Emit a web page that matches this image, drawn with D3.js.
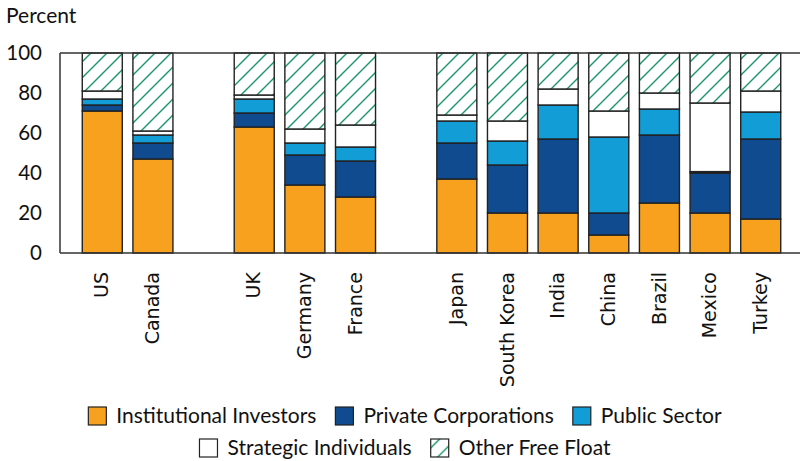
<!DOCTYPE html>
<html>
<head>
<meta charset="utf-8">
<script src="https://cdn.jsdelivr.net/npm/d3@7"></script>
<style>
  html, body { margin: 0; padding: 0; background: #fff; }
  svg { display: block; }
</style>
</head>
<body>
<svg id="chart" width="800" height="461"></svg>
<script>
// ---- Data ----
const categories = ["US", "Canada", "", "UK", "Germany", "France", " ", "Japan", "South Korea", "India", "China", "Brazil", "Mexico", "Turkey"];
const seriesNames = ["Institutional Investors", "Private Corporations", "Public Sector", "Strategic Individuals", "Other Free Float"];
const institutional = [71, 47, null, 63, 34, 28, null, 37, 20, 20, 9, 25, 20, 17];
const privateCorp   = [3, 8, null, 7, 15, 18, null, 18, 24, 37, 11, 34, 20, 40];
const publicSector  = [3, 4, null, 7, 6, 7, null, 11, 12, 17, 38, 13, 0.7, 13.5];
const strategic     = [4, 2, null, 2, 7, 11, null, 3, 10, 8, 13, 8, 34.3, 10.5];
const otherFloat    = [19, 39, null, 21, 38, 36, null, 31, 34, 18, 29, 20, 25, 19];
const yTicks = [0, 20, 40, 60, 80, 100];
const yLabel = "Percent";

const colors = ["#F8A11E", "#0F4B8E", "#129DD6", "#FFFFFF", "url(#hatch)"];

// ---- Layout ----
const svg = d3.select("#chart");
const mLeft = 60, mRight = 800, mTop = 53, mBottom = 253;

const defs = svg.append("defs");
const pat = defs.append("pattern")
  .attr("id", "hatch")
  .attr("patternUnits", "userSpaceOnUse")
  .attr("width", 16).attr("height", 16);
pat.append("rect").attr("width", 16).attr("height", 16).attr("fill", "#fff");
pat.append("path")
  .attr("d", "M-4,4 L4,-4 M0,16 L16,0 M12,20 L20,12")
  .attr("stroke", "#16966A").attr("stroke-width", 1.4);

const x = d3.scaleBand().domain(categories).range([mLeft + 1.5, mRight + 1.5]).paddingInner(0.21).paddingOuter(0.41);
const y = d3.scaleLinear().domain([0, 100]).range([mBottom, mTop]);

// Stack
const rows = categories.map((c, i) => ({
  cat: c,
  s0: institutional[i], s1: privateCorp[i], s2: publicSector[i], s3: strategic[i], s4: otherFloat[i]
})).filter(d => d.s0 !== null);
const stack = d3.stack().keys(["s0", "s1", "s2", "s3", "s4"]);
const stacked = stack(rows);

const gBars = svg.append("g");
stacked.forEach((layer, li) => {
  gBars.append("g").selectAll("rect").data(layer).join("rect")
    .attr("x", d => x(d.data.cat))
    .attr("width", x.bandwidth())
    .attr("y", d => y(d[1]))
    .attr("height", d => y(d[0]) - y(d[1]))
    .attr("fill", colors[li])
    .attr("stroke", "#222")
    .attr("stroke-width", 1.4);
});

// Frame
svg.append("line").attr("x1", mLeft).attr("x2", mRight).attr("y1", mTop).attr("y2", mTop)
  .attr("stroke", "#333").attr("stroke-width", 1.5);
svg.append("line").attr("x1", mLeft).attr("x2", mRight).attr("y1", mBottom).attr("y2", mBottom)
  .attr("stroke", "#333").attr("stroke-width", 1.5);
svg.append("line").attr("x1", mLeft).attr("x2", mLeft).attr("y1", mTop).attr("y2", mBottom)
  .attr("stroke", "#333").attr("stroke-width", 1.5);

// Y axis
const yAxis = d3.axisLeft(y).tickValues(yTicks).tickSize(0).tickPadding(18);
const gy = svg.append("g").attr("transform", `translate(${mLeft},0)`).call(yAxis);
gy.select(".domain").remove();
gy.selectAll("text").attr("font-family", "Lato, sans-serif").attr("font-size", 20.5).attr("fill", "#111");

svg.append("text").attr("x", 6).attr("y", 23).text(yLabel)
  .attr("font-family", "Lato, sans-serif").attr("font-size", 21).attr("fill", "#111");

// X labels
const xAxis = d3.axisBottom(x).tickSize(0).tickFormat(d => d.trim());
const gx = svg.append("g").attr("transform", `translate(0,${mBottom})`).call(xAxis);
gx.select(".domain").remove();
gx.selectAll("text")
  .attr("font-family", "'DejaVu Sans', sans-serif").attr("font-size", 19).attr("fill", "#111")
  .attr("text-anchor", "end")
  .attr("transform", "rotate(-90)")
  .attr("x", -19).attr("y", 0).attr("dy", "0.32em");

// Legend
const legendRows = [[0, 1, 2], [3, 4]];
const legendY = [416, 448];
const fontL = 21;
legendRows.forEach((row, ri) => {
  const g = svg.append("g");
  let cx = 0;
  row.forEach((si, k) => {
    const item = g.append("g").attr("transform", `translate(${cx},0)`);
    item.append("rect").attr("x", 0).attr("y", -9).attr("width", 18).attr("height", 18)
      .attr("fill", colors[si]).attr("stroke", "#222").attr("stroke-width", 1.2);
    const t = item.append("text").attr("x", 28).attr("y", 0).attr("dy", "0.35em")
      .attr("font-family", "Lato, sans-serif").attr("font-size", fontL).attr("fill", "#111")
      .text(seriesNames[si]);
    cx += 28 + t.node().getComputedTextLength() + 19;
  });
  const w = cx - 19;
  g.attr("transform", `translate(${405 - w / 2},${legendY[ri]})`);
});
</script>
</body>
</html>
